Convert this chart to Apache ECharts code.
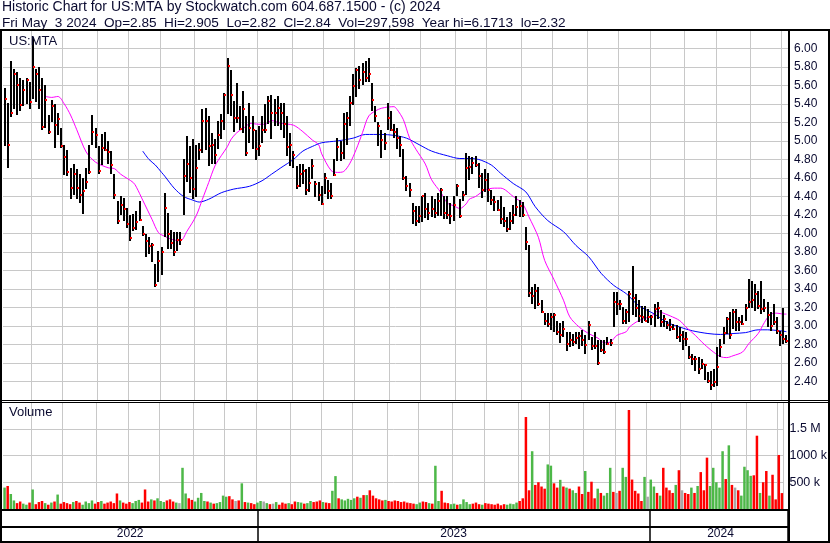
<!DOCTYPE html>
<html><head><meta charset="utf-8">
<script src="https://cdn.jsdelivr.net/npm/echarts@6.0.0/dist/echarts.min.js"></script>
<style>html,body{margin:0;padding:0;background:#fff}#c{width:830px;height:543px}</style>
</head><body><div id="c"></div>
<script>
// ---- data (one bar = two trading days, May 2022 .. May 3 2024) ----
const highs = [
5.57,5.41,5.86,5.78,5.74,5.68,5.66,5.68,5.64,6.12, 5.78,5.80,5.68,5.60,5.28,5.44,5.40,5.30,5.14,4.96,
4.90,4.71,4.75,4.70,4.64,4.60,4.71,4.96,5.28,5.14, 4.95,5.07,5.10,5.00,4.89,4.64,4.35,4.40,4.38,4.28,
4.20,4.21,4.24,4.35,4.08,3.99,3.96,3.90,3.67,3.81, 3.85,4.44,4.22,4.04,4.02,4.02,4.02,4.80,5.05,4.95,
5.02,4.96,4.98,5.35,5.36,5.27,5.09,5.02,5.21,5.29, 5.52,5.90,5.77,5.43,5.63,5.38,5.54,5.27,5.41,5.27,
5.12,5.16,5.27,5.40,5.48,5.50,5.45,5.48,5.41,5.41, 5.27,5.09,4.89,4.73,4.75,4.75,4.70,4.72,4.80,4.57,
4.56,4.51,4.65,4.58,4.55,4.80,5.03,5.00,5.30,5.31, 5.48,5.72,5.79,5.81,5.84,5.86,5.90,5.63,5.38,5.20,
5.12,5.09,5.41,5.32,5.18,5.14,5.05,4.91,4.62,4.55, 4.33,4.30,4.30,4.40,4.44,4.33,4.40,4.37,4.44,4.49,
4.40,4.40,4.33,4.40,4.53,4.37,4.46,4.87,4.84,4.83, 4.84,4.76,4.65,4.70,4.65,4.47,4.40,4.36,4.41,4.29,
4.18,4.23,4.31,4.40,4.36,4.34,4.07,3.88,3.42,3.46, 3.42,3.28,3.14,3.14,3.14,3.14,3.05,3.03,3.05,2.94,
2.94,2.92,2.94,2.94,2.96,2.90,3.06,2.88,2.94,2.85, 2.85,2.85,2.88,2.86,3.37,3.37,3.28,3.21,3.18,3.38,
3.65,3.35,3.28,3.22,3.22,3.19,3.12,3.24,3.26,3.17, 3.12,3.06,3.08,3.02,3.01,2.99,2.95,2.94,2.79,2.70,
2.68,2.67,2.65,2.59,2.50,2.52,2.54,2.77,2.86,2.99, 3.10,3.15,3.19,3.19,3.10,3.12,3.24,3.51,3.49,3.46,
3.38,3.49,3.29,3.26,3.15,3.24,3.10,2.95,3.20,2.905];
const lows = [
4.94,4.71,5.25,5.35,5.28,5.32,5.38,5.40,5.35,5.45, 5.42,5.35,5.12,5.14,5.08,5.20,4.92,5.06,4.92,4.64,
4.62,4.38,4.42,4.38,4.33,4.21,4.48,4.65,4.96,4.92, 4.65,4.74,4.89,4.75,4.64,4.37,4.10,4.19,4.13,4.06,
3.92,4.03,4.03,4.13,3.97,3.74,3.78,3.70,3.42,3.47, 3.55,3.97,3.83,3.83,3.76,3.81,3.88,4.20,4.55,4.44,
4.37,4.40,4.80,4.87,4.91,4.73,4.75,4.75,4.91,5.02, 5.12,5.30,5.27,5.10,5.20,5.12,5.09,4.84,4.98,4.91,
4.80,4.84,4.98,5.09,5.18,5.02,5.16,5.16,5.12,5.03, 4.84,4.73,4.71,4.48,4.50,4.53,4.42,4.45,4.58,4.40,
4.36,4.30,4.42,4.37,4.38,4.62,4.78,4.78,4.80,4.95, 5.16,5.39,5.48,5.56,5.60,5.63,5.64,5.33,5.21,4.94,
4.82,4.91,5.12,5.10,5.03,4.91,4.82,4.58,4.46,4.40, 4.10,4.08,4.12,4.12,4.17,4.15,4.17,4.17,4.19,4.19,
4.15,4.15,4.10,4.13,4.40,4.17,4.35,4.42,4.58,4.65, 4.72,4.49,4.38,4.45,4.34,4.31,4.24,4.24,4.11,4.07,
4.02,4.04,4.11,4.18,4.18,4.18,3.82,3.32,3.24,3.19, 3.21,3.14,3.01,2.99,2.96,2.94,2.90,2.81,2.88,2.74,
2.78,2.79,2.81,2.76,2.79,2.70,2.85,2.74,2.76,2.58, 2.72,2.70,2.79,2.78,2.99,3.12,3.17,3.03,3.02,3.04,
3.12,3.10,3.04,3.04,3.06,3.04,3.01,2.99,3.08,2.99, 2.99,2.97,2.95,2.95,2.86,2.83,2.74,2.79,2.65,2.58,
2.52,2.49,2.54,2.42,2.38,2.32,2.35,2.35,2.67,2.81, 2.92,2.86,2.97,2.95,2.95,3.01,3.06,3.20,3.20,3.17,
3.19,3.13,3.15,2.99,2.94,3.01,2.92,2.79,2.81,2.82];
const closes = [
5.45,4.96,5.30,5.72,5.60,5.39,5.55,5.66,5.42,5.80, 5.72,5.55,5.15,5.44,5.10,5.38,5.17,5.24,4.94,4.83,
4.66,4.49,4.64,4.49,4.42,4.46,4.56,4.66,5.10,5.06, 4.67,4.92,4.90,4.88,4.74,4.42,4.13,4.31,4.26,4.10,
3.95,4.06,4.12,4.15,3.99,3.92,3.86,3.88,3.44,3.70, 3.80,4.28,4.00,3.90,3.80,3.93,3.93,4.62,4.75,4.60,
4.48,4.71,4.90,5.21,5.22,4.95,4.96,4.85,5.06,5.22, 5.50,5.81,5.50,5.25,5.25,5.13,5.34,4.87,5.14,5.12,
4.91,4.94,5.12,5.12,5.43,5.30,5.30,5.36,5.30,5.18, 4.93,4.96,4.85,4.51,4.64,4.68,4.47,4.55,4.73,4.53,
4.42,4.32,4.60,4.46,4.40,4.63,4.93,4.87,5.18,5.25, 5.41,5.59,5.77,5.66,5.74,5.68,5.72,5.44,5.27,5.16,
5.01,4.98,5.25,5.12,5.10,5.03,4.96,4.60,4.51,4.47, 4.24,4.14,4.19,4.40,4.26,4.22,4.26,4.22,4.35,4.47,
4.22,4.20,4.19,4.31,4.51,4.19,4.42,4.71,4.72,4.76, 4.74,4.62,4.47,4.58,4.47,4.36,4.34,4.25,4.16,4.14,
4.05,4.14,4.20,4.29,4.30,4.20,3.91,3.36,3.32,3.38, 3.24,3.15,3.06,3.02,3.10,3.12,2.94,2.90,2.97,2.81,
2.85,2.83,2.87,2.89,2.85,2.80,3.01,2.79,2.78,2.60, 2.74,2.72,2.81,2.82,3.26,3.24,3.24,3.05,3.15,3.35,
3.30,3.20,3.11,3.10,3.06,3.10,3.10,3.18,3.20,3.04, 3.08,3.01,2.99,2.97,2.88,2.90,2.86,2.86,2.67,2.64,
2.65,2.54,2.59,2.58,2.41,2.36,2.40,2.56,2.77,2.93, 3.08,2.90,3.15,3.04,3.04,3.02,3.20,3.26,3.28,3.35,
3.22,3.18,3.20,3.12,3.00,3.04,2.95,2.90,2.86,2.84];
const volumesK = [
400,430,280,160,110,140,100,80,120,365, 90,130,150,110,80,120,140,270,100,130,
110,90,130,150,120,80,140,110,160,100, 130,150,100,120,140,110,290,160,120,100,
130,110,150,170,120,365,140,180,160,200, 150,130,160,180,140,120,110,770,290,200,
170,140,210,300,150,140,120,100,110,130, 250,230,240,180,150,160,480,130,120,110,
90,120,150,140,110,90,100,130,80,120, 100,110,90,140,130,120,100,110,150,130,
140,160,130,120,110,340,615,200,180,160, 190,170,200,230,210,260,260,350,250,200,
180,160,170,150,140,160,150,130,140,120, 110,100,90,120,140,130,110,100,808,150,
340,120,110,90,100,80,90,180,130,90, 100,120,90,80,110,100,90,80,100,70,
90,80,100,90,120,150,200,1720,350,1080, 450,500,420,380,833,810,480,400,545,420,
400,380,350,300,420,280,710,320,510,200, 380,300,250,300,770,320,300,340,770,600,
1850,550,340,290,150,600,230,550,420,300, 250,770,400,350,300,450,725,350,300,280,
400,300,430,690,350,960,430,770,500,400, 1080,560,1190,450,400,350,250,790,725,620,
630,1370,300,500,710,250,640,180,1010,297.598];
// moving averages: [bar index, value]
const maShort = [[13,5.48],[15,5.47],[17,5.48],[19,5.40],[21,5.28],[23,5.12],[26,4.88],[29,4.77],[33,4.71],[35,4.70],
[37,4.64],[41,4.55],[42,4.50],[44,4.36],[47,4.15],[49,4.01],[51,3.97],[53,3.94],[56,3.92],[58,4.02],[61,4.19],[63,4.37],
[65,4.55],[67,4.73],[69,4.84],[71,4.94],[72,5.01],[74,5.09],[77,5.16],[78,5.19],[81,5.18],[83,5.18],[85,5.22],[88,5.19],
[92,5.17],[95,5.10],[98,5.01],[100,4.96],[101,4.86],[104,4.68],[106,4.66],[108,4.67],[110,4.76],[112,4.91],[114,5.09],
[116,5.27],[119,5.34],[121,5.36],[124,5.37],[125,5.34],[127,5.23],[129,5.03],[131,4.91],[134,4.75],[136,4.58],[139,4.44],
[141,4.33],[143,4.30],[145,4.27],[147,4.32],[148,4.37],[150,4.40],[153,4.47],[156,4.49],[158,4.49],[162,4.40],[165,4.32],
[167,4.18],[170,3.96],[172,3.71],[175,3.50],[178,3.28],[180,3.10],[183,2.99],[186,2.92],[189,2.87],[191,2.82],[193,2.83],
[195,2.90],[198,2.94],[199,2.99],[202,3.06],[206,3.11],[208,3.16],[209,3.15],[212,3.11],[215,3.06],[217,2.99],[220,2.90],
[222,2.83],[225,2.74],[228,2.67],[230,2.66],[232,2.68],[235,2.72],[237,2.81],[240,2.92],[242,3.04],[244,3.13],[246,3.14],
[248,3.13],[249,3.13]];
const maLong = [[44,4.89],[46,4.80],[48,4.74],[50,4.66],[51,4.62],[54,4.49],[57,4.40],[60,4.36],[62,4.34],[65,4.37],
[69,4.44],[73,4.48],[78,4.51],[82,4.57],[85,4.64],[88,4.71],[92,4.80],[95,4.89],[98,4.94],[101,4.98],[106,5.00],[111,5.03],
[115,5.07],[120,5.07],[124,5.06],[128,5.03],[132,4.96],[136,4.89],[141,4.84],[145,4.81],[148,4.81],[151,4.80],[155,4.74],
[158,4.65],[162,4.54],[166,4.45],[169,4.29],[173,4.14],[178,4.02],[182,3.87],[186,3.75],[190,3.57],[194,3.44],[198,3.35],
[202,3.22],[207,3.13],[211,3.04],[215,2.99],[219,2.95],[224,2.92],[228,2.91],[232,2.92],[236,2.93],[240,2.96],[243,2.96],
[247,2.95],[249,2.94]];
const monthStartIdx = [9,19,30,40,50,61,71,81,92,102,112,123,133,144,154,165,175,186,196,206,217,227,238,248];
const yearStartIdx = [0,81,206];
const yearLabels = ['2022','2023','2024'];
const volTickLabels = {500000:'500 k',1000000:'1000 k',1500000:'1.5 M'};
const titleLine1 = 'Historic Chart for US:MTA by Stockwatch.com 604.687.1500 - (c) 2024';
const titleLine2 = 'Fri May  3 2024  Op=2.85  Hi=2.905  Lo=2.82  Cl=2.84  Vol=297,598  Year hi=6.1713  lo=2.32';
const symbolName = 'US:MTA';

// ---- chart ----
const N = highs.length;
const cats = highs.map((_, i) => String(i));
const monthSet = new Set(monthStartIdx);
const yearDivSet = new Set(yearStartIdx.filter(i => i > 0));
const yearLabelAt = {};
yearStartIdx.forEach((s, k) => {
  const e = k + 1 < yearStartIdx.length ? yearStartIdx[k + 1] : N;
  yearLabelAt[Math.floor((s + e) / 2)] = yearLabels[k];
});
const FONT = 'Liberation Sans, Arial, sans-serif';
const TXT = '#0a0a30';
const GRID = '#c8c8c8';
const UP = '#4db848', DOWN = '#ff0000', FLAT = '#a8a8a8';

const volData = volumesK.map((v, i) => {
  let col = UP;
  if (i > 0) col = closes[i] > closes[i - 1] ? UP : (closes[i] < closes[i - 1] ? DOWN : FLAT);
  return { value: v * 1000, itemStyle: { color: col } };
});

const chart = echarts.init(document.getElementById('c'), null, { renderer: 'canvas' });
const monthSplit = { show: true, interval: (i) => monthSet.has(i), lineStyle: { color: GRID, width: 1 } };
const txt = (text, left, top, size) => ({ text, left, top, padding: 0,
  textStyle: { fontFamily: FONT, fontSize: size, fontWeight: 'normal', color: TXT } });

chart.setOption({
  animation: false,
  backgroundColor: '#fff',
  title: [
    txt(titleLine1, 2, 0, 14),
    txt(titleLine2, 2, 16, 13.6),
    txt(symbolName, 9, 35, 13),
    txt('Volume', 9, 406, 13)
  ],
  grid: [
    { left: 3, right: 42, top: 29.8, height: 370.4 },
    { left: 3, right: 42, top: 402, height: 107 },
    { left: 3, right: 42, top: 510, height: 31 }
  ],
  xAxis: [
    { type: 'category', gridIndex: 0, data: cats, boundaryGap: true, axisLine: { show: false }, axisTick: { show: false },
      axisLabel: { show: false }, splitLine: monthSplit },
    { type: 'category', gridIndex: 1, data: cats, boundaryGap: true, axisLine: { show: false }, axisTick: { show: false },
      axisLabel: { show: false }, splitLine: monthSplit },
    { type: 'category', gridIndex: 2, data: cats, boundaryGap: true, axisLine: { show: false }, axisTick: { show: false },
      splitLine: { show: true, interval: (i) => yearDivSet.has(i), lineStyle: { color: '#000', width: 1.5 } },
      axisLabel: { show: true, inside: true, margin: 1, interval: (i) => yearLabelAt[i] !== undefined,
        formatter: (v, i) => yearLabelAt[i] || '', fontFamily: FONT, fontSize: 12, color: TXT } }
  ],
  yAxis: [
    { type: 'value', gridIndex: 0, position: 'right', min: 2.2, max: 6.2, interval: 0.2,
      axisLine: { show: false }, axisTick: { show: false },
      axisLabel: { margin: 6, fontFamily: FONT, fontSize: 12, color: TXT,
        formatter: (v) => (v < 2.3 || v > 6.1) ? '' : v.toFixed(2) },
      splitLine: { show: true, lineStyle: { color: GRID, width: 1 } } },
    { type: 'value', gridIndex: 1, position: 'right', min: 0, max: 2000000, interval: 500000,
      axisLine: { show: false }, axisTick: { show: false },
      axisLabel: { margin: 6, fontFamily: FONT, fontSize: 12.5, color: TXT, formatter: (v) => volTickLabels[v] || '' },
      splitLine: { show: true, lineStyle: { color: GRID, width: 1 } } },
    { type: 'value', gridIndex: 2, show: false }
  ],
  series: [
    { type: 'line', xAxisIndex: 0, yAxisIndex: 0, data: maLong, showSymbol: false, smooth: 0.3,
      lineStyle: { color: '#0000ff', width: 1 }, z: 3 },
    { type: 'line', xAxisIndex: 0, yAxisIndex: 0, data: maShort, showSymbol: false, smooth: 0.3,
      lineStyle: { color: '#ff00ff', width: 1 }, z: 3 },
    { type: 'custom', xAxisIndex: 0, yAxisIndex: 0, z: 4,
      data: highs.map((h, i) => [i, h, lows[i], closes[i]]),
      encode: { x: 0, y: [1, 2, 3] },
      renderItem: (params, api) => {
        const i = api.value(0);
        const t = api.coord([i, api.value(1)]);
        const b = api.coord([i, api.value(2)]);
        const c = api.coord([i, api.value(3)]);
        const x = Math.round(t[0]) - 1;
        return { type: 'group', children: [
          { type: 'rect', shape: { x, y: Math.round(t[1]), width: 2, height: Math.max(1, Math.round(b[1] - t[1])) },
            style: { fill: '#000' } },
          { type: 'rect', shape: { x: x + 1, y: Math.round(c[1]) - 1, width: 2, height: 2 }, style: { fill: '#ff0000' } }
        ] };
      } },
    { type: 'bar', xAxisIndex: 1, yAxisIndex: 1, data: volData, barWidth: '80%', z: 3 }
  ],
  graphic: [
    { type: 'rect', shape: { x: 0, y: 29, width: 830, height: 2 }, style: { fill: '#000' }, z: 100 },
    { type: 'rect', shape: { x: 0, y: 29, width: 2, height: 514 }, style: { fill: '#000' }, z: 100 },
    { type: 'rect', shape: { x: 788, y: 29, width: 2, height: 514 }, style: { fill: '#000' }, z: 100 },
    { type: 'rect', shape: { x: 828, y: 29, width: 2, height: 514 }, style: { fill: '#000' }, z: 100 },
    { type: 'rect', shape: { x: 0, y: 400, width: 830, height: 1 }, style: { fill: '#000' }, z: 100 },
    { type: 'rect', shape: { x: 0, y: 402, width: 830, height: 1 }, style: { fill: '#000' }, z: 100 },
    { type: 'rect', shape: { x: 0, y: 509, width: 790, height: 2 }, style: { fill: '#000' }, z: 100 },
    { type: 'rect', shape: { x: 0, y: 526, width: 790, height: 2 }, style: { fill: '#000' }, z: 100 },
    { type: 'rect', shape: { x: 0, y: 541, width: 830, height: 2 }, style: { fill: '#000' }, z: 100 }
  ]
});
</script></body></html>
